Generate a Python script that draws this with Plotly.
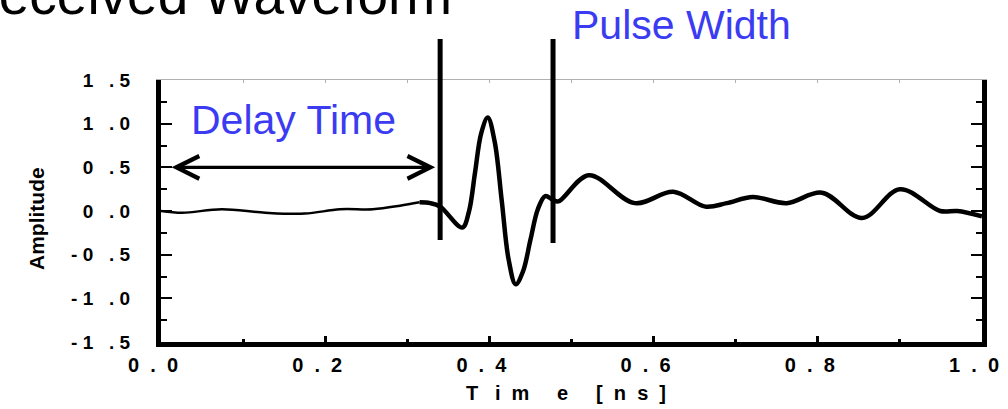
import plotly.graph_objects as go

# ---------------- data ----------------
time_ns = [0.000, 0.026, 0.074, 0.127, 0.175, 0.218, 0.258, 0.291, 0.315,
           0.328, 0.340, 0.367, 0.375, 0.3825, 0.390, 0.398, 0.4065, 0.415,
           0.4235, 0.432, 0.441, 0.450, 0.459, 0.468,
           0.477, 0.484, 0.521, 0.577, 0.624, 0.663, 0.689, 0.721, 0.762,
           0.805, 0.854, 0.900, 0.949, 0.970, 1.000]
amplitude = [0.00, -0.02, 0.02, -0.02, -0.03, 0.02, 0.02, 0.06, 0.10,
             0.09, 0.05, -0.19, -0.01, 0.44, 0.89, 1.07, 0.79, 0.12,
             -0.56, -0.84, -0.69, -0.33, 0.02, 0.17,
             0.13, 0.11, 0.41, 0.09, 0.22, 0.05, 0.09, 0.16, 0.09,
             0.21, -0.08, 0.25, 0.00, 0.00, -0.06]
split_index = 8  # thin trace before this point, thick trace after

x_tick_vals = [0.0, 0.2, 0.4, 0.6, 0.8, 1.0]
x_tick_labels = ["0 . 0", "0 . 2", "0 . 4", "0 . 6", "0 . 8", "1 . 0"]
x_minor_vals = [0.1, 0.3, 0.5, 0.7, 0.9]
y_tick_vals = [-1.5, -1.0, -0.5, 0.0, 0.5, 1.0, 1.5]
y_tick_labels = ["- 1 . 5", "- 1 . 0", "- 0 . 5", "0 . 0", "0 . 5", "1 . 0", "1 . 5"]
y_minor_vals = [-1.25, -0.75, -0.25, 0.25, 0.75, 1.25]

delay_time = [0.011, 0.334]      # ns, arrow extent
delay_arrow_level = 0.50         # amplitude
pulse_bounds = [0.340, 0.4775]   # ns, vertical marker lines
pulse_arrow = [0.3496, 0.4714]   # ns
pulse_arrow_level = 1.74         # amplitude

# ---------------- layout helpers ----------------
W, H = 1008, 409
L, R, T, B = 161, 26, 80, 67
PW, PH = W - L - R, H - T - B


def px_x(p):
    return (p - L) / PW


def px_y(p):
    return (H - B - p) / PH


NB = "\u00a0"


def spaced_y(s):
    return s.replace("- ", "-" + NB).replace(" . ", NB * 3 + "." + NB)


def spaced_x(s):
    return s.replace(" . ", NB * 2 + "." + NB * 2)


FONT = "Liberation Sans, Arial, sans-serif"
BLUE = "#3b3bf2"

fig = go.Figure()
fig.add_trace(go.Scatter(
    x=time_ns[:split_index + 1], y=amplitude[:split_index + 1],
    mode="lines", line=dict(color="black", width=2.5, shape="spline"),
    hoverinfo="skip", showlegend=False))
fig.add_trace(go.Scatter(
    x=time_ns[split_index:], y=amplitude[split_index:], xaxis="x2",
    mode="lines", line=dict(color="black", width=4.5, shape="spline"),
    hoverinfo="skip", showlegend=False))

fig.update_layout(
    width=W, height=H,
    margin=dict(l=L, r=R, t=T, b=B, autoexpand=False),
    paper_bgcolor="white", plot_bgcolor="white",
    showlegend=False,
    xaxis=dict(
        range=[0, 1], showgrid=False, zeroline=False, automargin=False,
        showline=True, linewidth=5, linecolor="black", mirror=False,
        ticks="inside", ticklen=6, tickwidth=3, tickcolor="black",
        tickmode="array", tickvals=x_tick_vals,
        ticktext=[spaced_x(s) for s in x_tick_labels],
        tickfont=dict(family=FONT, size=20, color="black", weight="bold"),
        ticklabelstandoff=1, ticklabelshift=-8, ticklabeloverflow="allow",
        minor=dict(ticks="inside", ticklen=3, tickwidth=3, tickcolor="black",
                   tickmode="array", tickvals=x_minor_vals, showgrid=False),
    ),
    xaxis2=dict(
        range=[0, 1], overlaying="x", side="top", anchor="y", automargin=False,
        showgrid=False, zeroline=False, showticklabels=False,
        showline=True, linewidth=1, linecolor="#b0b0b0",
        ticks="inside", ticklen=3, tickwidth=1, tickcolor="#b0b0b0",
        tickmode="linear", tick0=0, dtick=0.1,
    ),
    yaxis=dict(
        range=[-1.5, 1.5], showgrid=False, zeroline=False, automargin=False,
        showline=True, linewidth=5, linecolor="black", mirror="ticks",
        ticks="inside", ticklen=11, tickwidth=2, tickcolor="black",
        tickmode="array", tickvals=y_tick_vals,
        ticktext=[spaced_y(s) for s in y_tick_labels],
        tickfont=dict(family=FONT, size=19, color="black", weight="bold"),
        ticklabelstandoff=22, ticklabeloverflow="allow",
        minor=dict(ticks="inside", ticklen=6, tickwidth=2, tickcolor="black",
                   tickmode="array", tickvals=y_minor_vals, showgrid=False),
    ),
)

# vertical pulse-width markers (extend above the plot area)
fig.add_shape(type="line", xref="x", yref="paper",
              x0=pulse_bounds[0], x1=pulse_bounds[0], y0=px_y(240), y1=px_y(39),
              line=dict(color="black", width=5))
fig.add_shape(type="line", xref="x", yref="paper",
              x0=pulse_bounds[1], x1=pulse_bounds[1], y0=px_y(243), y1=px_y(39),
              line=dict(color="black", width=5))

# double-headed arrows
for (xa, xb), lvl in [(delay_time, delay_arrow_level), (pulse_arrow, pulse_arrow_level)]:
    fig.add_annotation(x=xb, y=lvl, ax=xa, ay=lvl, xref="x", yref="y",
                       axref="x", ayref="y", text="", showarrow=True,
                       arrowhead=5, startarrowhead=5, arrowside="end+start",
                       arrowsize=1.4, startarrowsize=1.4, arrowwidth=3.2,
                       arrowcolor="black", standoff=0, startstandoff=0)

# texts
fig.add_annotation(text="Received Waveform", xref="paper", yref="paper",
                   x=px_x(-43), y=px_y(28), xanchor="left", yanchor="bottom",
                   showarrow=False, font=dict(family=FONT, size=55, color="black"))
fig.add_annotation(text="Delay Time", xref="paper", yref="paper",
                   x=px_x(293), y=px_y(120), xanchor="center", yanchor="middle",
                   showarrow=False, font=dict(family=FONT, size=41, color=BLUE))
fig.add_annotation(text="Pulse Width", xref="paper", yref="paper",
                   x=px_x(681), y=px_y(25), xanchor="center", yanchor="middle",
                   showarrow=False, font=dict(family=FONT, size=41, color=BLUE))
fig.add_annotation(text="Amplitude", xref="paper", yref="paper",
                   x=px_x(36), y=px_y(218), xanchor="center", yanchor="middle",
                   textangle=-90, showarrow=False,
                   font=dict(family=FONT, size=21, color="black", weight="bold"))
x_title = ("T" + NB * 3 + "i" + NB * 2 + "m" + NB * 5 + "e" + NB * 5 + "["
           + NB * 2 + "n" + NB * 2 + "s" + NB * 2 + "]")
fig.add_annotation(text=x_title, xref="paper", yref="paper",
                   x=px_x(566), y=px_y(393), xanchor="center", yanchor="middle",
                   showarrow=False,
                   font=dict(family=FONT, size=20, color="black", weight="bold"))

fig.write_html("out.html", config={"displayModeBar": False},
               post_script="document.body.style.margin='0';")
